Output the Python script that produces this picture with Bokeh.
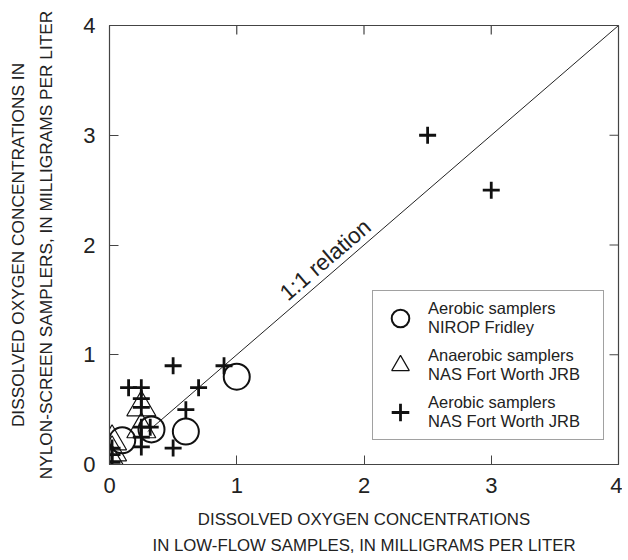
from bokeh.plotting import figure
from bokeh.models import Range1d, FixedTicker, Legend, LegendItem, Label
from bokeh.embed import file_html
from bokeh.resources import INLINE

# Aerobic samplers, NIROP Fridley
circ_x = [0.1, 0.33, 0.6, 1.0]
circ_y = [0.22, 0.32, 0.3, 0.8]
# Anaerobic samplers, NAS Fort Worth JRB
tri_x = [0.02, 0.02, 0.02, 0.25, 0.25]
tri_y = [0.02, 0.11, 0.21, 0.32, 0.52]
# Aerobic samplers, NAS Fort Worth JRB
plus_x = [0.02, 0.02, 0.02, 0.15, 0.25, 0.25, 0.25, 0.25, 0.25, 0.25, 0.32, 0.5, 0.5, 0.6, 0.7, 0.9, 2.5, 3.0]
plus_y = [0.15, 0.09, 0.02, 0.7, 0.7, 0.6, 0.52, 0.34, 0.25, 0.16, 0.34, 0.9, 0.15, 0.5, 0.7, 0.9, 3.0, 2.5]
# 1:1 relation
ref_x = [0.3, 4.0]
ref_y = [0.3, 4.0]
ticks = [0, 1, 2, 3, 4]
inner_ticks = [1, 2, 3]
X_MAX = 4
Y_MAX = 4

FONT = "Liberation Sans"
GRAY = "#444444"
TXT = "#222222"
W, H = 622, 558
BL, BR, BT, BB = 109, 4, 25, 94

p = figure(width=W, height=H, output_backend="svg", toolbar_location=None,
           x_range=Range1d(0, X_MAX), y_range=Range1d(0, Y_MAX),
           min_border_left=BL, min_border_top=BT, min_border_right=BR, min_border_bottom=BB,
           x_axis_label="DISSOLVED OXYGEN CONCENTRATIONS\nIN LOW-FLOW SAMPLES, IN MILLIGRAMS PER LITER",
           y_axis_label="DISSOLVED OXYGEN CONCENTRATIONS IN\nNYLON-SCREEN SAMPLERS, IN MILLIGRAMS PER LITER")
p.grid.visible = False
p.outline_line_color = GRAY
p.outline_line_width = 1.2

for ax in (p.xaxis[0], p.yaxis[0]):
    ax.ticker = FixedTicker(ticks=ticks)
    ax.major_tick_in = 9
    ax.major_tick_out = 0
    ax.minor_tick_line_color = None
    ax.axis_line_color = GRAY
    ax.major_tick_line_color = GRAY
    ax.major_label_text_font = FONT
    ax.major_label_text_font_size = "22px"
    ax.major_label_text_color = TXT
    ax.axis_label_text_font = FONT
    ax.axis_label_text_font_style = "normal"
    ax.axis_label_text_color = TXT
    ax.axis_label_text_line_height = 1.42
p.xaxis.axis_label_text_font_size = "16.8px"
p.yaxis.axis_label_text_font_size = "17.3px"
p.xaxis.major_label_standoff = 13
p.yaxis.major_label_standoff = 14
p.xaxis.axis_label_standoff = 14
p.yaxis.axis_label_standoff = 24

# inward ticks on the top and right edges of the frame
px_x = (W - BL - BR) / X_MAX
px_y = (H - BT - BB) / Y_MAX
tick_len = 9
p.segment(x0=inner_ticks, y0=[Y_MAX] * 3, x1=inner_ticks, y1=[Y_MAX - tick_len / px_y] * 3,
          line_color=GRAY, line_width=1.2)
p.segment(x0=[X_MAX] * 3, y0=inner_ticks, x1=[X_MAX - tick_len / px_x] * 3, y1=inner_ticks,
          line_color=GRAY, line_width=1.2)

p.line(ref_x, ref_y, line_color=TXT, line_width=1)
rel = Label(x=1.76, y=1.76, text="1:1 relation", angle=40.6, angle_units="deg",
            text_font=FONT, text_font_size="22.5px", text_color=TXT,
            text_align="center", text_baseline="bottom", y_offset=2)
p.add_layout(rel)

r_c = p.scatter(circ_x, circ_y, marker="circle", size=26, fill_color=None,
                line_color="#111111", line_width=2)
r_t = p.scatter(tri_x, tri_y, marker="triangle", size=29, fill_color=None,
                line_color="#111111", line_width=1.2)
r_p = p.scatter(plus_x, plus_y, marker="cross", size=17, line_color="#111111", line_width=2.8)

legend = Legend(items=[
    LegendItem(label="Aerobic samplers\nNIROP Fridley", renderers=[r_c]),
    LegendItem(label="Anaerobic samplers\nNAS Fort Worth JRB", renderers=[r_t]),
    LegendItem(label="Aerobic samplers\nNAS Fort Worth JRB", renderers=[r_p]),
], location=(263, 24))
legend.label_text_font = FONT
legend.label_text_font_size = "16.5px"
legend.label_text_color = TXT
legend.label_text_line_height = 1.2
legend.label_width = 170
legend.label_standoff = 6
legend.glyph_width = 44
legend.glyph_height = 44
legend.spacing = 3
legend.padding = 5
legend.margin = 0
legend.border_line_color = GRAY
legend.border_line_width = 1.2
legend.background_fill_alpha = 1
p.add_layout(legend)

open("out.html", "w").write(file_html(p, INLINE))
